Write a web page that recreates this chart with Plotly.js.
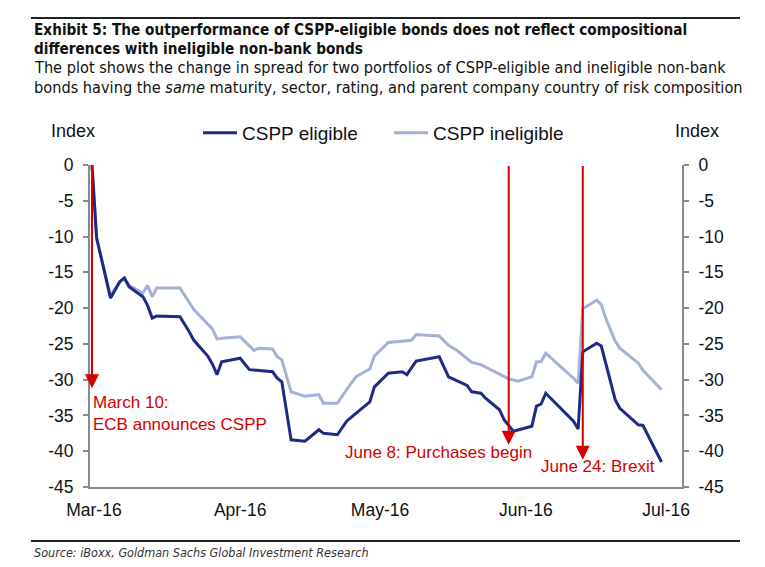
<!DOCTYPE html>
<html>
<head>
<meta charset="utf-8">
<script src="https://cdn.plot.ly/plotly-3.0.1.min.js"></script>
<style>html,body{margin:0;padding:0;background:#fff;}#chart{width:765px;height:567px;}</style>
</head>
<body>
<div id="chart"></div>
<script>
// ---- data ----
const eligibleDates = ['2016-03-10','2016-03-11','2016-03-14','2016-03-16','2016-03-17','2016-03-18','2016-03-21','2016-03-22','2016-03-23','2016-03-24','2016-03-29','2016-03-30','2016-03-31','2016-04-01','2016-04-04','2016-04-05','2016-04-06','2016-04-07','2016-04-11','2016-04-13','2016-04-18','2016-04-19','2016-04-20','2016-04-22','2016-04-25','2016-04-28','2016-04-29','2016-05-02','2016-05-04','2016-05-06','2016-05-09','2016-05-10','2016-05-13','2016-05-16','2016-05-17','2016-05-19','2016-05-24','2016-05-26','2016-05-30','2016-05-31','2016-06-02','2016-06-03','2016-06-06','2016-06-07','2016-06-09','2016-06-13','2016-06-14','2016-06-15','2016-06-16','2016-06-22','2016-06-23','2016-06-24','2016-06-27','2016-06-28','2016-07-01','2016-07-02','2016-07-06','2016-07-07','2016-07-11'];
const eligibleValues = [0,-10.2,-18.6,-16.3,-15.8,-17.0,-18.4,-19.6,-21.4,-21.1,-21.2,-22.2,-23.3,-24.5,-26.7,-27.8,-29.3,-27.5,-27.0,-28.6,-28.9,-29.8,-30.3,-38.4,-38.6,-37.0,-37.5,-37.7,-35.8,-34.7,-33.1,-31.0,-29.1,-28.9,-29.3,-27.4,-26.8,-29.6,-30.8,-31.7,-31.9,-32.6,-34.2,-35.6,-37.2,-36.5,-33.7,-33.4,-31.9,-35.8,-36.9,-26.1,-24.9,-25.3,-32.8,-34.0,-36.3,-36.4,-41.5];

const ineligibleDates = ['2016-03-10','2016-03-11','2016-03-14','2016-03-16','2016-03-17','2016-03-18','2016-03-21','2016-03-22','2016-03-23','2016-03-24','2016-03-29','2016-03-30','2016-03-31','2016-04-01','2016-04-05','2016-04-06','2016-04-07','2016-04-11','2016-04-14','2016-04-15','2016-04-18','2016-04-19','2016-04-20','2016-04-22','2016-04-25','2016-04-28','2016-04-29','2016-05-02','2016-05-04','2016-05-06','2016-05-09','2016-05-10','2016-05-13','2016-05-18','2016-05-19','2016-05-24','2016-05-26','2016-05-28','2016-05-31','2016-06-02','2016-06-08','2016-06-10','2016-06-13','2016-06-14','2016-06-15','2016-06-16','2016-06-22','2016-06-23','2016-06-24','2016-06-27','2016-06-28','2016-06-29','2016-07-01','2016-07-02','2016-07-06','2016-07-07','2016-07-11'];
const ineligibleValues = [0,-10.2,-18.3,-16.3,-15.8,-16.8,-17.9,-16.8,-18.4,-17.2,-17.2,-18.2,-19.3,-20.2,-22.9,-24.3,-24.2,-24.0,-25.9,-25.6,-25.7,-26.8,-27.2,-31.7,-32.3,-32.1,-33.3,-33.3,-31.4,-29.6,-28.5,-26.7,-24.8,-24.5,-23.7,-23.9,-25.2,-26.0,-27.6,-27.9,-29.9,-30.2,-29.6,-27.5,-27.5,-26.3,-29.8,-30.5,-20.1,-18.9,-19.5,-21.5,-24.6,-25.6,-27.7,-28.7,-31.4];

const seriesNames = ['CSPP eligible','CSPP ineligible'];
const yTicks = [0,-5,-10,-15,-20,-25,-30,-35,-40,-45];
const xTickVals = ['2016-03-10 10:00','2016-04-11','2016-05-11 05:00','2016-06-11 17:00','2016-07-12'];
const xTickText = ['Mar-16','Apr-16','May-16','Jun-16','Jul-16'];

const eventDates = ['2016-03-10','2016-06-08','2016-06-24'];
const eventArrowEnds = [-31.2,-39.1,-41.2];
const eventLabels = ['March 10:<br>ECB announces CSPP','June 8: Purchases begin','June 24: Brexit'];

const titleLines = ['Exhibit 5: The outperformance of CSPP-eligible bonds does not reflect compositional','differences with ineligible non-bank bonds'];
const subtitleLines = ['The plot shows the change in spread for two portfolios of CSPP-eligible and ineligible non-bank','bonds having the <i>same</i> maturity, sector, rating, and parent company country of risk composition'];
const sourceText = 'Source: iBoxx, Goldman Sachs Global Investment Research';

// ---- layout helpers ----
const W = 765, H = 567;
const M = {l: 90, r: 83, t: 165, b: 80};
const PW = W - M.l - M.r, PH = H - M.t - M.b;
const px = x => (x - M.l) / PW;
const py = y => (H - M.b - y) / PH;

const FONT = 'Liberation Sans, Arial, sans-serif';
const NARROW = 'DejaVu Sans Condensed, sans-serif';
const DARK = '#1f2a86';
const LIGHT = '#a6b1d8';
const RED = '#d40000';
const AXIS = '#8a8a8a';

const traces = [
  {x: ineligibleDates, y: ineligibleValues, name: seriesNames[1], type: 'scatter', mode: 'lines',
   line: {color: LIGHT, width: 3}, legendrank: 2},
  {x: eligibleDates, y: eligibleValues, name: seriesNames[0], type: 'scatter', mode: 'lines',
   line: {color: DARK, width: 3}, legendrank: 1},
  {x: eligibleDates, y: eligibleValues, yaxis: 'y2', type: 'scatter', mode: 'lines',
   line: {width: 0}, opacity: 0, showlegend: false, hoverinfo: 'skip'}
];

const annotations = [];
eventDates.forEach((d, i) => {
  annotations.push({x: d, y: eventArrowEnds[i], ax: d, ay: 0, xref: 'x', yref: 'y', axref: 'x', ayref: 'y',
    text: ' ', font: {size: 1}, borderpad: 0, showarrow: true, arrowhead: 2, arrowsize: 1.4, arrowwidth: 2, arrowcolor: RED, standoff: 0});
});
annotations.push({xref: 'paper', yref: 'paper', x: px(91), y: py(391), xanchor: 'left', yanchor: 'top', align: 'left',
  text: eventLabels[0], showarrow: false, font: {family: FONT, size: 17, color: RED}});
annotations.push({xref: 'paper', yref: 'paper', x: px(534), y: py(452), xanchor: 'right', yanchor: 'middle',
  text: eventLabels[1], showarrow: false, font: {family: FONT, size: 17, color: RED}});
annotations.push({xref: 'paper', yref: 'paper', x: px(657), y: py(466), xanchor: 'right', yanchor: 'middle',
  text: eventLabels[2], showarrow: false, font: {family: FONT, size: 17, color: RED}});
// axis titles "Index"
annotations.push({xref: 'paper', yref: 'paper', x: px(73), y: py(131), xanchor: 'center', yanchor: 'middle',
  text: 'Index', showarrow: false, font: {family: FONT, size: 18, color: '#111'}});
annotations.push({xref: 'paper', yref: 'paper', x: px(697), y: py(131), xanchor: 'center', yanchor: 'middle',
  text: 'Index', showarrow: false, font: {family: FONT, size: 18, color: '#111'}});
// header
const headY = [30, 49, 68, 87];
titleLines.forEach((t, i) => annotations.push({xref: 'paper', yref: 'paper', x: px(32), y: py(headY[i]), xanchor: 'left', yanchor: 'middle',
  text: '<b>' + t + '</b>', showarrow: false, font: {family: NARROW, size: 15.2, color: '#111'}}));
subtitleLines.forEach((t, i) => annotations.push({xref: 'paper', yref: 'paper', x: px(32), y: py(headY[i + 2]), xanchor: 'left', yanchor: 'middle',
  text: t, showarrow: false, font: {family: NARROW, size: 16.2, color: '#111'}}));
annotations.push({xref: 'paper', yref: 'paper', x: px(32), y: py(552), xanchor: 'left', yanchor: 'middle',
  text: '<i>' + sourceText + '</i>', showarrow: false, font: {family: NARROW, size: 12.5, color: '#333'}});

const shapes = [
  {type: 'line', xref: 'paper', yref: 'paper', x0: px(31), x1: px(740), y0: py(18), y1: py(18), line: {color: '#222', width: 2}},
  {type: 'line', xref: 'paper', yref: 'paper', x0: px(31), x1: px(740), y0: py(541), y1: py(541), line: {color: '#222', width: 2}}
];

const yaxisCommon = {
  range: [-45, 0], tickvals: yTicks, ticktext: yTicks.map(String), showgrid: false, zeroline: false,
  showline: true, linecolor: AXIS, linewidth: 2, ticks: 'outside', ticklen: 5, tickwidth: 2, tickcolor: AXIS,
  tickfont: {family: FONT, size: 17.5, color: '#111'}, fixedrange: true
};

const layout = {
  width: W, height: H, margin: M, paper_bgcolor: '#fff', plot_bgcolor: '#fff',
  font: {family: FONT, size: 17, color: '#111'},
  showlegend: true,
  legend: {orientation: 'h', x: px(198), y: py(114), xanchor: 'left', yanchor: 'top', bgcolor: 'rgba(0,0,0,0)',
    font: {family: FONT, size: 19, color: '#111'}, traceorder: 'normal', itemwidth: 34,
    entrywidth: 142, entrywidthmode: 'pixels'},
  xaxis: {type: 'date', range: ['2016-03-09 13:40', '2016-07-15 10:20'], tickvals: xTickVals, ticktext: xTickText,
    showgrid: false, zeroline: false, showline: true, linecolor: AXIS, linewidth: 2, ticks: '',
    tickfont: {family: FONT, size: 17.5, color: '#111'}, ticklabelstandoff: 6},
  yaxis: Object.assign({}, yaxisCommon, {side: 'left', ticklabelstandoff: 6}),
  yaxis2: Object.assign({}, yaxisCommon, {side: 'right', overlaying: 'y', anchor: 'x', ticklabelstandoff: 6}),
  annotations: annotations, shapes: shapes
};

Plotly.newPlot('chart', traces, layout, {staticPlot: true, displayModeBar: false});
</script>
</body>
</html>
